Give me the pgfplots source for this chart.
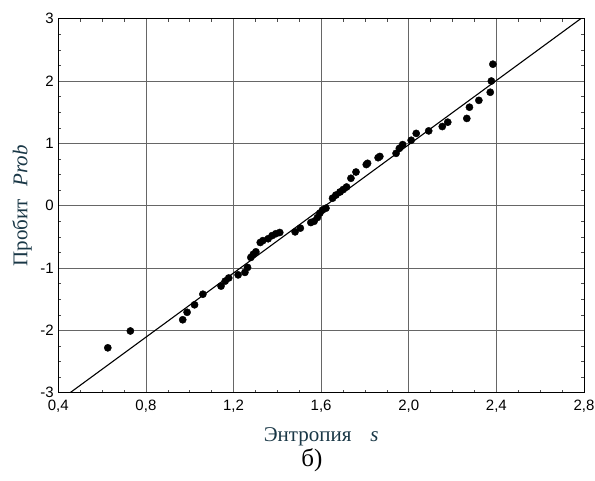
\documentclass[border=0pt]{standalone}
\usepackage{fontspec}
\setmainfont{Liberation Serif}
\newfontfamily\arial{Liberation Sans}
\usepackage{pgfplots}
\pgfplotsset{compat=1.18}
\definecolor{labcol}{RGB}{25,55,70}
\begin{document}
\begin{tikzpicture}
\useasboundingbox (0,0) rectangle (595pt,481pt);
\begin{axis}[
  at={(58.3pt,88.3pt)}, anchor=south west,
  scale only axis, width=525.7pt, height=374pt,
  xmin=0.4, xmax=2.8, ymin=-3, ymax=3,
  xtick={0.4,0.8,1.2,1.6,2.0,2.4,2.8},
  xticklabels={{0,4},{0,8},{1,2},{1,6},{2,0},{2,4},{2,8}},
  ytick={-3,-2,-1,0,1,2,3},
  yticklabels={-3,-2,-1,0,1,2,3},
  minor x tick num=3, minor y tick num=3,
  tick align=inside,
  major tick length=0pt, minor tick length=3pt,
  every minor tick/.style={black!70, line width=0.5pt},
  grid=major,
  major grid style={black!60, line width=0.8pt},
  axis line style={black, line width=0.8pt},
  tick label style={font=\arial\fontsize{15}{17}\selectfont, black},
  xticklabel style={yshift=-4pt},
  yticklabel style={xshift=-1pt},
  xlabel={Энтропия\hspace{0.9em}\textit{s}},
  ylabel={Пробит\hspace{0.6em}\textit{Prob}},
  xlabel style={at={(axis description cs:0.5,-0.118)}, anchor=center, font=\fontsize{21}{24}\selectfont, text=labcol},
  ylabel style={at={(axis description cs:-0.069,0.5)}, anchor=center, font=\fontsize{21}{24}\selectfont, text=labcol},
  clip mode=individual,
]
\addplot[black, line width=1.1pt, no marks] coordinates {(0.454,-3) (2.785,3)};
\addplot[only marks, mark=*, mark size=3.6pt, black] coordinates {
(0.626,-2.28) (0.729,-2.01) (0.968,-1.83) (0.988,-1.71) (1.022,-1.59)
(1.060,-1.42) (1.143,-1.29) (1.162,-1.21) (1.178,-1.16) (1.221,-1.11)
(1.252,-1.07) (1.264,-0.99) (1.279,-0.83) (1.290,-0.78) (1.302,-0.74)
(1.322,-0.59) (1.334,-0.56) (1.358,-0.53) (1.376,-0.48) (1.393,-0.45)
(1.411,-0.43) (1.481,-0.42) (1.505,-0.36) (1.553,-0.27) (1.568,-0.25)
(1.583,-0.19) (1.594,-0.12) (1.606,-0.07) (1.622,-0.04) (1.652,0.12)
(1.667,0.17) (1.686,0.22) (1.701,0.26) (1.716,0.30) (1.736,0.44)
(1.759,0.54) (1.806,0.66) (1.812,0.68) (1.860,0.77) (1.868,0.79)
(1.942,0.84) (1.957,0.92) (1.972,0.98) (2.011,1.05) (2.034,1.16)
(2.091,1.20) (2.153,1.27) (2.178,1.34) (2.265,1.40) (2.277,1.58)
(2.320,1.69) (2.372,1.82) (2.377,2.00) (2.384,2.27)
};
\end{axis}
\node[font=\fontsize{25}{28}\selectfont, anchor=center] at (312pt,21pt) {б)};
\end{tikzpicture}
\end{document}
